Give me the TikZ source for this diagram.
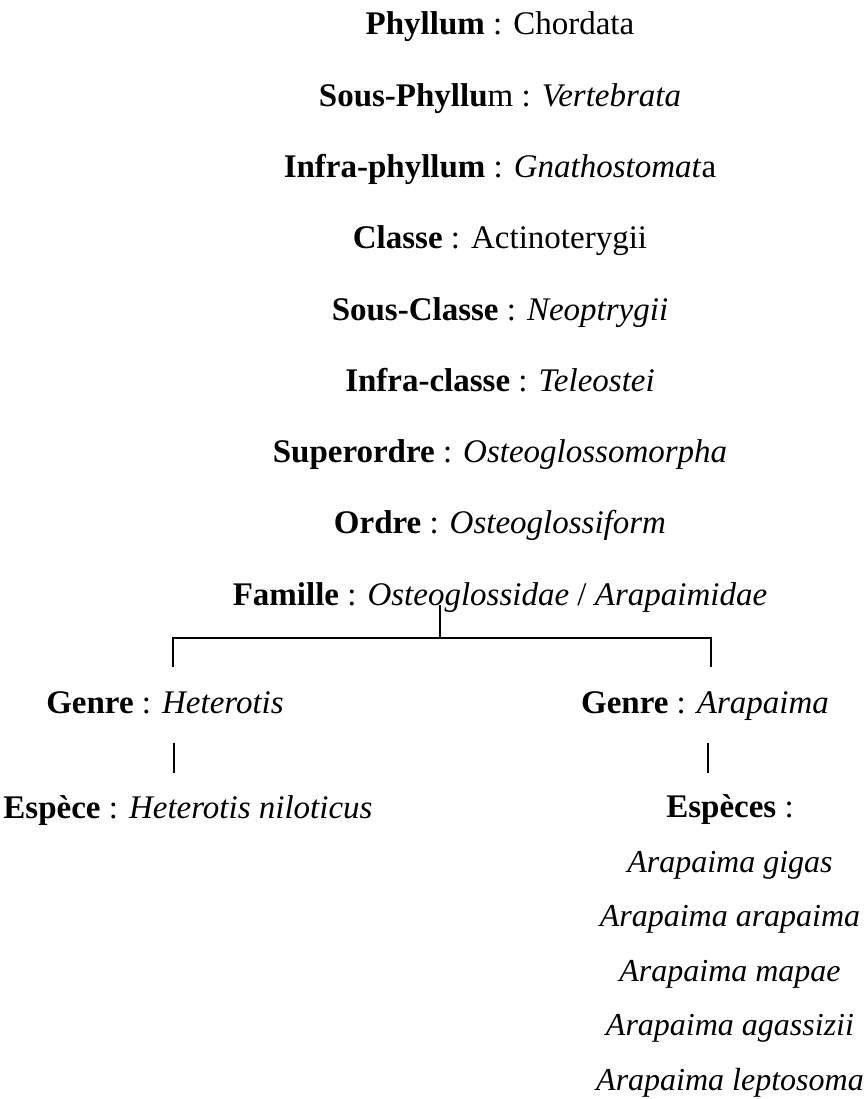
\documentclass[tikz,border=0pt]{standalone}
\usepackage{fontspec}
\setmainfont{Liberation Serif}
\usetikzlibrary{calc}

\begin{document}
\begin{tikzpicture}[x=1pt, y=1pt,
    every node/.style={inner sep=0pt, anchor=base, font=\fontsize{33}{40}\selectfont},
    species/.style={font=\fontsize{32}{38}\selectfont\itshape},
    branch/.style={line width=1.1pt}]
  \def\dy{71.25}
  \useasboundingbox (0,0) rectangle (867,-1099);

  % rangs du phyllum a la famille
  \node (phyllum) at (500,-35) {\textbf{Phyllum} : Chordata};
  \node (sousphyllum) at ($(phyllum.base)+(0,-\dy)$) {\textbf{Sous-Phyllu}m : \textit{Vertebrata}};
  \node (infraphyllum) at ($(sousphyllum.base)+(0,-\dy)$) {\textbf{Infra-phyllum} : \textit{Gnathostomat}a};
  \node (classe) at ($(infraphyllum.base)+(0,-\dy)$) {\textbf{Classe} : Actinoterygii};
  \node (sousclasse) at ($(classe.base)+(0,-\dy)$) {\textbf{Sous-Classe} : \textit{Neoptrygii}};
  \node (infraclasse) at ($(sousclasse.base)+(0,-\dy)$) {\textbf{Infra-classe} : \textit{Teleostei}};
  \node (superordre) at ($(infraclasse.base)+(0,-\dy)$) {\textbf{Superordre} : \textit{Osteoglossomorpha}};
  \node (ordre) at ($(superordre.base)+(0,-\dy)$) {\textbf{Ordre} : \textit{Osteoglossiform}};
  \node (famille) at ($(ordre.base)+(0,-\dy)$) {\textbf{Famille} : \textit{Osteoglossidae} / \textit{Arapaimidae}};

  % les deux genres
  \node (genreH) at (165,-713) {\textbf{Genre} : \textit{Heterotis}};
  \node (genreA) at (705,-713) {\textbf{Genre} : \textit{Arapaima}};
  \node (especeH) at (188,-818) {\textbf{Espèce} : \textit{Heterotis niloticus}};
  \node (especesA) at (730,-817) {\textbf{Espèces} :};
  \foreach \nom [count=\i] in {gigas, arapaima, mapae, agassizii, leptosoma}
    \node[species] (sp\i) at (730,{-872-54.5*(\i-1)}) {Arapaima \nom};

  % accolade
  \coordinate (fork) at (440,-638);
  \coordinate (forkL) at (173,-638);
  \coordinate (forkR) at (711,-638);
  \draw[branch] (famille.base -| fork) -- (fork);
  \draw[branch] ($(genreH.base -| forkL)+(0,46)$) -- (forkL) -- (forkR)
    -- ($(genreA.base -| forkR)+(0,46)$);
  \draw[branch] ($(genreH.base -| forkL)+(1,-30)$) -- ($(especeH.base -| forkL)+(1,45)$);
  \draw[branch] ($(genreA.base -| forkR)+(-3,-30)$) -- ($(especesA.base -| forkR)+(-3,44)$);
\end{tikzpicture}
\end{document}
